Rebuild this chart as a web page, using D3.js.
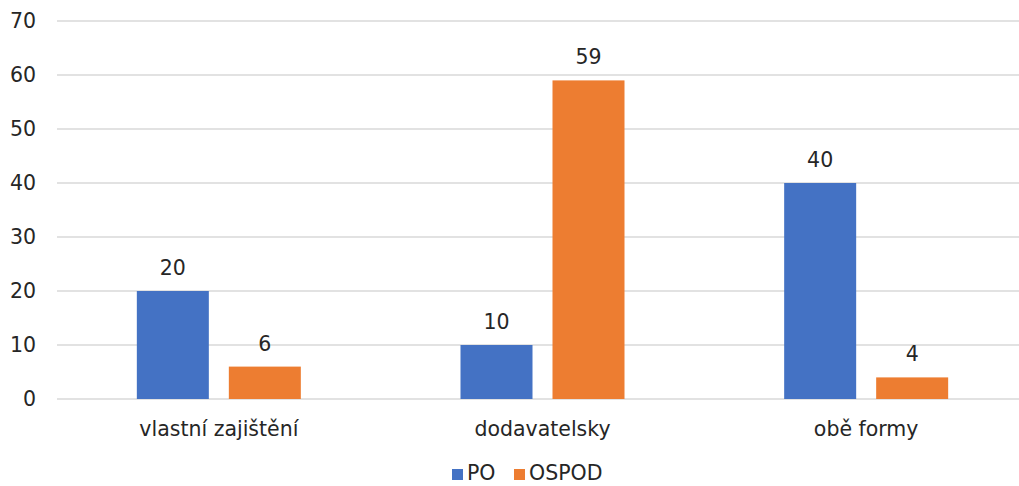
<!DOCTYPE html>
<html>
<head>
<meta charset="utf-8">
<script src="https://cdn.jsdelivr.net/npm/d3@7"></script>
<style>
  body { margin: 0; background: #fff; }
  text { font-family: "DejaVu Sans", Verdana, sans-serif; fill: #262626; }
</style>
</head>
<body>
<script>
const categories = ["vlastní zajištění", "dodavatelsky", "obě formy"];
const seriesNames = ["PO", "OSPOD"];
const poValues = [20, 10, 40];
const ospodValues = [6, 59, 4];
const yTicks = [0, 10, 20, 30, 40, 50, 60, 70];
const colors = ["#4472C4", "#ED7D31"];

const w = 1019, h = 486, fs = "20.5px";
const svg = d3.select("body").append("svg").attr("width", w).attr("height", h);

const yScale = d3.scaleLinear().domain([0, 70]).range([399, 21]);
const x0 = d3.scaleBand().domain(categories).range([57, 1028]).padding(0);
const x1 = d3.scaleBand().domain(seriesNames).range([0, 164]).paddingInner(0.2174).paddingOuter(0);
const groupOffset = (x0.bandwidth() - 164) / 2;

// gridlines
svg.append("g")
   .selectAll("line")
   .data(yTicks)
   .join("line")
   .attr("x1", 57).attr("x2", 1028)
   .attr("y1", d => yScale(d)).attr("y2", d => yScale(d))
   .attr("stroke", "#d9d9d9").attr("stroke-width", 1.5);

// y axis labels
const yAxis = d3.axisLeft(yScale).tickValues(yTicks).tickSize(0).tickPadding(0);
svg.append("g")
   .attr("transform", "translate(36,0)")
   .call(yAxis)
   .call(g => g.select(".domain").remove())
   .call(g => g.selectAll("text").style("font-size", fs).attr("fill", "#262626").style("font-family", "DejaVu Sans"));

const dataset = categories.map((c, i) => ({ cat: c, vals: [poValues[i], ospodValues[i]] }));

const groups = svg.selectAll("g.group")
   .data(dataset)
   .join("g")
   .attr("class", "group")
   .attr("transform", d => "translate(" + (x0(d.cat) + groupOffset) + ",0)");

groups.selectAll("rect")
   .data(d => d.vals.map((v, j) => ({ name: seriesNames[j], v: v, j: j })))
   .join("rect")
   .attr("x", d => x1(d.name))
   .attr("y", d => yScale(d.v))
   .attr("width", x1.bandwidth())
   .attr("height", d => yScale(0) - yScale(d.v))
   .attr("fill", d => colors[d.j]);

groups.selectAll("text.val")
   .data(d => d.vals.map((v, j) => ({ name: seriesNames[j], v: v })))
   .join("text")
   .attr("class", "val")
   .attr("x", d => x1(d.name) + x1.bandwidth() / 2)
   .attr("y", d => yScale(d.v) - 16)
   .attr("text-anchor", "middle")
   .style("font-size", fs)
   .text(d => d.v);

// x axis labels
const xAxis = d3.axisBottom(x0).tickSize(0).tickPadding(0);
svg.append("g")
   .attr("transform", "translate(0,421)")
   .call(xAxis)
   .call(g => g.select(".domain").remove())
   .call(g => g.selectAll("text").style("font-size", fs).attr("fill", "#262626").style("font-family", "DejaVu Sans"));

// legend
const legendX = [452, 514];
const legend = svg.selectAll("g.legend")
   .data(seriesNames)
   .join("g")
   .attr("class", "legend")
   .attr("transform", (d, i) => "translate(" + legendX[i] + ",480)");
legend.append("rect").attr("x", 0).attr("y", -11).attr("width", 11).attr("height", 11).attr("fill", (d, i) => colors[i]);
legend.append("text").attr("x", 15).attr("y", 0).style("font-size", fs).text(d => d);
</script>
</body>
</html>
